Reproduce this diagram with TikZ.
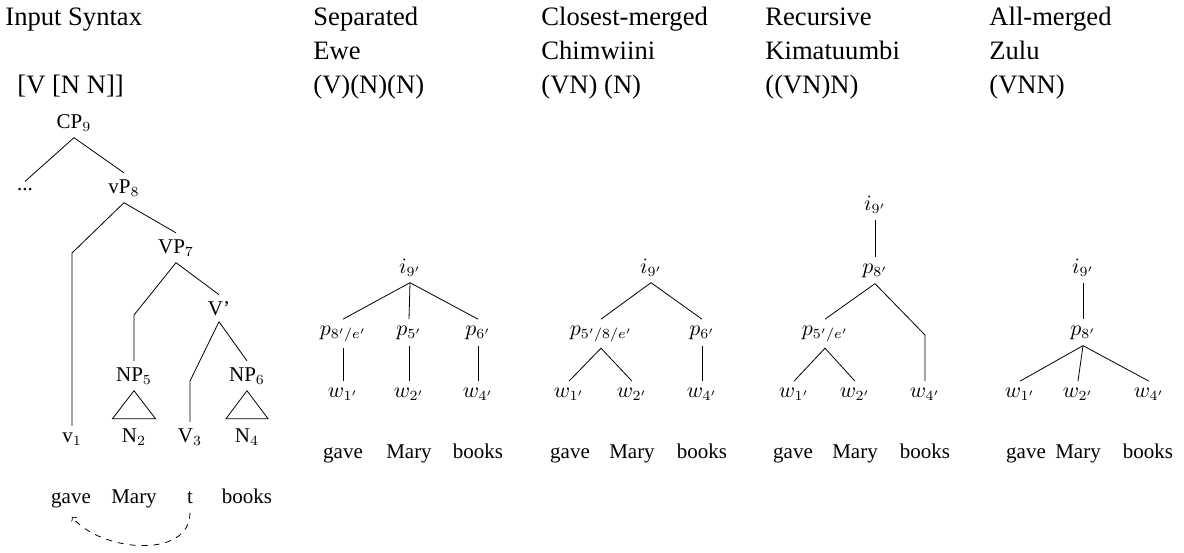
\documentclass[tikz,border=0pt]{standalone}
\usepackage{fontspec}
\setmainfont{Liberation Serif}
\begin{document}
\begin{tikzpicture}[x=0.5pt,y=-0.5pt,
    head/.style={anchor=base west,inner sep=0pt,font=\fontsize{13.3}{16}\selectfont},
    lab/.style={anchor=base,inner sep=3pt,font=\fontsize{10.5}{12.6}\selectfont}]
  \useasboundingbox (0,0) rectangle (1184,552);

	% Headings
	\node[head] (inhead) at (5,25) {Input Syntax};
	\node[head] (inbrack) at (17,93) {[V [N N]]};
	\node[head] (sephead) at (313,25) {Separated};
	\node[head] (seplang) at (313,59) {Ewe};
	\node[head] (sepbrack) at (313,93) {(V)(N)(N)};
	\node[head] (clshead) at (541,25) {Closest-merged};
	\node[head] (clslang) at (541,59) {Chimwiini};
	\node[head] (clsbrack) at (541,93) {(VN) (N)};
	\node[head] (rechead) at (765,25) {Recursive};
	\node[head] (reclang) at (765,59) {Kimatuumbi};
	\node[head] (recbrack) at (765,93) {((VN)N)};
	\node[head] (allhead) at (989,25) {All-merged};
	\node[head] (alllang) at (989,59) {Zulu};
	\node[head] (allbrack) at (989,93) {(VNN)};

	% Input syntax tree
	\node[lab] (cp) at (74,128) {CP$_9$};
	\node[lab] (dots) at (25,190) {...};
	\node[lab] (vp) at (124,193) {vP$_8$};
	\node[lab] (vpseven) at (176,253) {VP$_7$};
	\node[lab] (vbar) at (219,315) {V'};
	\node[lab] (npfive) at (134,381) {NP$_5$};
	\node[lab] (npsix) at (247,381) {NP$_6$};
	\node[lab] (vone) at (72,442) {v$_1$};
	\node[lab] (ntwo) at (134,442) {N$_2$};
	\node[lab] (vthree) at (190,442) {V$_3$};
	\node[lab] (nfour) at (247,442) {N$_4$};
	\foreach \x/\w in {71/gave,134/Mary,190/t,247/books}
		\node[lab] (in\w) at (\x,503) {\w};

	\draw (cp.south) -- (dots.north);
	\draw (cp.south) -- (vp.north);
	\draw (vp.south) -- (vone.north |- vpseven.base) -- (vone.north);
	\draw (vp.south) -- (vpseven.north);
	\draw (vpseven.south) -- (npfive.north |- vbar.base) -- (npfive.north);
	\draw (vpseven.south) -- (vbar.north);
	\draw (vbar.south) -- (vthree.north |- npsix.base) -- (vthree.north);
	\draw (vbar.south) -- (npsix.north);
	\draw (npfive.south) -- ++(-21.5,28) -- ++(43,0) -- cycle;
	\draw (npsix.south) -- ++(-21,28) -- ++(42,0) -- cycle;
	\draw[dashed,->] ([shift={(0,3)}]int.south) .. controls ([shift={(0,50)}]int.south) and ([shift={(30,38)}]ingave.south) .. ([shift={(1,3)}]ingave.south);

	% Separated
	\node[lab] (si) at (410,273) {$i_{9'}$};
	\node[lab] (spa) at (343,335) {$p_{8'/e'}$};
	\node[lab] (spb) at (409,335) {$p_{5'}$};
	\node[lab] (spc) at (478,335) {$p_{6'}$};
	\node[lab] (swa) at (343,397) {$w_{1'}$};
	\node[lab] (swb) at (409,397) {$w_{2'}$};
	\node[lab] (swc) at (478,397) {$w_{4'}$};
	\foreach \x/\w in {343/gave,409/Mary,478/books}
		\node[lab] (s\w) at (\x,458) {\w};
	\draw (si.south) -- (spa.north);
	\draw (si.south) -- (spb.north);
	\draw (si.south) -- (spc.north);
	\draw (spa.south) -- (swa.north);
	\draw (spb.south) -- (swb.north);
	\draw (spc.south) -- (swc.north);

	% Closest-merged
	\node[lab] (ci) at (651,273) {$i_{9'}$};
	\node[lab] (cpa) at (601,335) {$p_{5'/8/e'}$};
	\node[lab] (cpb) at (702,335) {$p_{6'}$};
	\node[lab] (cwa) at (569,397) {$w_{1'}$};
	\node[lab] (cwb) at (632,397) {$w_{2'}$};
	\node[lab] (cwc) at (702,397) {$w_{4'}$};
	\foreach \x/\w in {570/gave,632/Mary,702/books}
		\node[lab] (c\w) at (\x,458) {\w};
	\draw (ci.south) -- (cpa.north);
	\draw (ci.south) -- (cpb.north);
	\draw (cpa.south) -- (cwa.north);
	\draw (cpa.south) -- (cwb.north);
	\draw (cpb.south) -- (cwc.north);

	% Recursive
	\node[lab] (ri) at (875,210) {$i_{9'}$};
	\node[lab] (rpa) at (875,273) {$p_{8'}$};
	\node[lab] (rpb) at (825,335) {$p_{5'/e'}$};
	\node[lab] (rwa) at (794,397) {$w_{1'}$};
	\node[lab] (rwb) at (855,397) {$w_{2'}$};
	\node[lab] (rwc) at (925,397) {$w_{4'}$};
	\foreach \x/\w in {793/gave,855/Mary,925/books}
		\node[lab] (r\w) at (\x,458) {\w};
	\draw (ri.south) -- (rpa.north);
	\draw (rpa.south) -- (rpb.north);
	\draw (rpa.south) -- (rwc.north |- rpb.base) -- (rwc.north);
	\draw (rpb.south) -- (rwa.north);
	\draw (rpb.south) -- (rwb.north);

	% All-merged
	\node[lab] (ai) at (1083,273) {$i_{9'}$};
	\node[lab] (ap) at (1083,335) {$p_{8'}$};
	\node[lab] (awa) at (1020,397) {$w_{1'}$};
	\node[lab] (awb) at (1078,397) {$w_{2'}$};
	\node[lab] (awc) at (1149,397) {$w_{4'}$};
	\foreach \x/\w in {1026/gave,1078/Mary,1148/books}
		\node[lab] (a\w) at (\x,458) {\w};
	\draw (ai.south) -- (ap.north);
	\draw (ap.south) -- (awa.north);
	\draw (ap.south) -- (awb.north);
	\draw (ap.south) -- (awc.north);
\end{tikzpicture}
\end{document}
